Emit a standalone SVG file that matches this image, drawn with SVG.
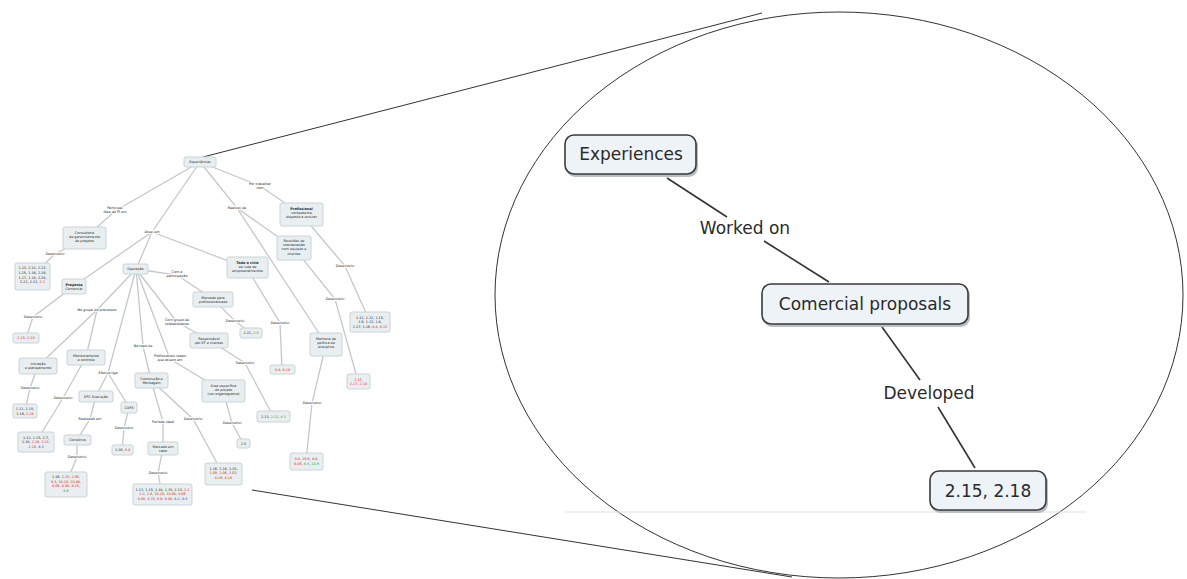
<svg xmlns="http://www.w3.org/2000/svg" width="1187" height="579" viewBox="0 0 1187 579">
<style>
.bg{fill:#ffffff}
.ln{stroke:#c4c8ca;stroke-width:1.3;fill:none}
.sb{fill:#e9eff1;stroke:#c9d3d7;stroke-width:1}
.st{font-family:"DejaVu Sans",sans-serif;font-size:3.4px;fill:#222;text-anchor:middle}
.lb{font-family:"DejaVu Sans",sans-serif;font-size:3.4px;fill:#222;text-anchor:middle;stroke:#fff;stroke-width:1.6;paint-order:stroke}
.r{fill:#e02020}.g{fill:#2a9a2a}.bl{fill:#2040d0}
.zl{stroke:#333;stroke-width:1;fill:none}
.bb{fill:#edf3f6;stroke:#3a3a3a;stroke-width:1.6}
.sh{fill:#b9bfc2}
.bt{font-family:"DejaVu Sans",sans-serif;font-size:17px;fill:#2a2a2a;text-anchor:middle}
.bc{stroke:#333;stroke-width:1.6;fill:none}
</style>
<rect class="bg" x="0" y="0" width="1187" height="579"/>

<!-- zoom outline -->
<g id="zoom-frame">
<ellipse class="zl" cx="839" cy="295" rx="344" ry="283"/>
<line class="zl" x1="203" y1="157" x2="762" y2="13"/>
<line class="zl" x1="252" y1="490" x2="792" y2="577"/>
<line x1="565" y1="512" x2="1086" y2="512" stroke="#e2e2de" stroke-width="1.2"/>
</g>

<!-- small map connectors -->
<g id="map-connectors" class="ln">
<path d="M200,162 L115,211 L85,238"/>
<path d="M200,162 L152,232 L136,269"/>
<path d="M152,232 L74,286"/>
<path d="M152,232 L247,268"/>
<path d="M200,162 L237,208 L294,248"/>
<path d="M237,208 L326,344"/>
<path d="M200,162 L260,186 L301,214"/>
<path d="M301,214 L345,266 L370,322"/>
<path d="M294,248 L335,299 L358,381"/>
<path d="M326,344 L312,403 L306,461"/>
<path d="M247,268 L280,323 L282,369"/>
<path d="M85,238 L55,254 L32,276"/>
<path d="M74,286 L33,317 L26,338"/>
<path d="M136,269 L177,275 L213,299 L235,321 L251,333"/>
<path d="M136,269 L97,310 L38,366"/>
<path d="M97,310 L86,357"/>
<path d="M136,269 L108,373 L96,396"/>
<path d="M108,373 L129,407"/>
<path d="M96,396 L90,419 L77,440 L77,457 L66,484"/>
<path d="M129,407 L124,428 L122,450"/>
<path d="M86,357 L63,398 L36,442"/>
<path d="M38,366 L30,388 L25,411"/>
<path d="M136,269 L143,346 L151,380"/>
<path d="M136,269 L170,359 L223,391"/>
<path d="M136,269 L177,322 L209,340"/>
<path d="M209,340 L245,363 L273,416"/>
<path d="M223,391 L232,423 L243,443"/>
<path d="M151,380 L163,422 L163,448 L158,473 L162,494"/>
<path d="M151,380 L193,419 L223,474"/>
</g>

<!-- small map link labels -->
<g id="map-labels">
<text class="lb" x="115" y="209">Participei<tspan x="115" dy="4">fase de PI em</tspan></text>
<text class="lb" x="152" y="233">Atuei em</text>
<text class="lb" x="237" y="209">Realizei de</text>
<text class="lb" x="260" y="185">Por trabalhar<tspan x="260" dy="4">com</tspan></text>
<text class="lb" x="55" y="255">Desenvolvi</text>
<text class="lb" x="33" y="318">Desenvolvi</text>
<text class="lb" x="177" y="273">Com a<tspan x="177" dy="4">participação</tspan></text>
<text class="lb" x="235" y="322">Desenvolvi</text>
<text class="lb" x="345" y="267">Desenvolvi</text>
<text class="lb" x="335" y="300">Desenvolvi</text>
<text class="lb" x="280" y="324">Desenvolvi</text>
<text class="lb" x="312" y="404">Desenvolvi</text>
<text class="lb" x="97" y="311">No grupo de processos</text>
<text class="lb" x="108" y="374">Efetiva liga</text>
<text class="lb" x="90" y="420">Realizado em</text>
<text class="lb" x="124" y="429">Desenvolvi</text>
<text class="lb" x="77" y="458">Desenvolvi</text>
<text class="lb" x="63" y="399">Desenvolvi</text>
<text class="lb" x="30" y="389">Desenvolvi</text>
<text class="lb" x="143" y="347">No topo de</text>
<text class="lb" x="170" y="357">Profissionais ideais<tspan x="170" dy="4">que atuem em</tspan></text>
<text class="lb" x="177" y="321">Com grupo de<tspan x="177" dy="4">colaboradores</tspan></text>
<text class="lb" x="245" y="364">Desenvolvi</text>
<text class="lb" x="232" y="424">Desenvolvi</text>
<text class="lb" x="163" y="423">Período ideal</text>
<text class="lb" x="193" y="420">Desenvolvi</text>
<text class="lb" x="158" y="474">Desenvolvi</text>
</g>

<!-- small map nodes -->
<g id="m-root"><rect class="sb" x="184" y="157" width="32" height="10" rx="2"/><text class="st" x="200" y="163.3">Experiências</text></g>
<g id="m-n1"><rect class="sb" x="63" y="227" width="43" height="22" rx="2"/><text class="st" x="84.5" y="234">Consultoria<tspan x="84.5" dy="4.2">de gerenciamento</tspan><tspan x="84.5" dy="4.2">de projetos</tspan></text></g>
<g id="m-n2"><rect class="sb" x="15" y="263" width="35" height="27" rx="2"/><text class="st" x="32.5" y="269">1.13, 2.12, 2.13,<tspan x="32.5" dy="4.8">1.15, 1.16, 2.19,</tspan><tspan x="32.5" dy="4.8">1.17, 1.18, 2.20,</tspan><tspan x="32.5" dy="4.8">2.21, 2.22, <tspan class="r">2.2</tspan></tspan></text></g>
<g id="m-n3"><rect class="sb" x="62" y="279" width="24" height="15" rx="2"/><text class="st" x="74" y="285.5" font-weight="bold">Proposta<tspan x="74" dy="4.2" font-weight="normal">Comercial</tspan></text></g>
<g id="m-n4"><rect class="sb" x="13" y="333" width="26" height="10" rx="2"/><text class="st r" x="26" y="339.3">2.15, 2.18</text></g>
<g id="m-n5"><rect class="sb" x="123" y="264" width="25" height="10" rx="2"/><text class="st" x="135.5" y="270.3">Operação</text></g>
<g id="m-n6"><rect class="sb" x="193" y="292" width="40" height="15" rx="2"/><text class="st" x="213" y="298.5">Mercado para<tspan x="213" dy="4.2">profissionalizado</tspan></text></g>
<g id="m-n7"><rect class="sb" x="240" y="328" width="22" height="10" rx="2"/><text class="st" x="251" y="334.3">2.21, <tspan class="g">2.8</tspan></text></g>
<g id="m-n8"><rect class="sb" x="190" y="333" width="38" height="15" rx="2"/><text class="st" x="209" y="339.5">Responsável<tspan x="209" dy="4.2">por EF e clientes</tspan></text></g>
<g id="m-n9"><rect class="sb" x="257" y="411" width="33" height="11" rx="2"/><text class="st" x="273.5" y="417.7">2.13, <tspan class="g">2.11, 8.3</tspan></text></g>
<g id="m-n10"><rect class="sb" x="202" y="380" width="43" height="22" rx="2"/><text class="st" x="223.5" y="387">Área específica<tspan x="223.5" dy="4.2">do projeto</tspan><tspan x="223.5" dy="4.2">(ver organograma)</tspan></text></g>
<g id="m-n11"><rect class="sb" x="237" y="439" width="13" height="9" rx="2"/><text class="st" x="243.5" y="444.8">2.5</text></g>
<g id="m-n12"><rect class="sb" x="205" y="463" width="37" height="22" rx="2"/><text class="st" x="223.5" y="469.5">1.16, 1.18, 1.15,<tspan x="223.5" dy="4.6" class="r">2.09, 2.06, 2.03,</tspan><tspan x="223.5" dy="4.6" class="r">8.16, 8.18</tspan></text></g>
<g id="m-n13"><rect class="sb" x="135" y="373" width="33" height="15" rx="2"/><text class="st" x="151.5" y="379.5">Construção e<tspan x="151.5" dy="4.2">Montagem</tspan></text></g>
<g id="m-n14"><rect class="sb" x="148" y="442" width="30" height="13" rx="2"/><text class="st" x="163" y="447.5">Mercado em<tspan x="163" dy="4.2">cabo</tspan></text></g>
<g id="m-n15"><rect class="sb" x="133" y="484" width="59" height="21" rx="2"/><text class="st" x="162.5" y="490.5">1.12, 1.15, 1.18, 1.15, 2.13, <tspan class="r">2.1</tspan><tspan x="162.5" dy="4.6" class="r">2.2, 2.9, 10.20, 10.08, 8.06</tspan><tspan x="162.5" dy="4.6" class="r">8.08, 8.15, 8.6, 8.08, <tspan class="bl">8.2, 8.5</tspan></tspan></text></g>
<g id="m-n16"><rect class="sb" x="121" y="402" width="16" height="11" rx="2"/><text class="st" x="129" y="408.7">CAPX</text></g>
<g id="m-n17"><rect class="sb" x="112" y="445" width="21" height="10" rx="2"/><text class="st" x="122.5" y="451.3">1.16, <tspan class="r">8.4</tspan></text></g>
<g id="m-n18"><rect class="sb" x="79" y="391" width="34" height="11" rx="2"/><text class="st" x="96" y="397.7">EPC Execução</text></g>
<g id="m-n19"><rect class="sb" x="64" y="435" width="27" height="10" rx="2"/><text class="st" x="77.5" y="441.3">Consórcio</text></g>
<g id="m-n20"><rect class="sb" x="45" y="472" width="42" height="25" rx="2"/><text class="st" x="66" y="478">1.16, <tspan class="r">2.15, 2.05,</tspan><tspan x="66" dy="4.5" class="r">8.3, 10.20, 10.08,</tspan><tspan x="66" dy="4.5" class="r">8.06, 8.08, 8.15,</tspan><tspan x="66" dy="4.5" class="g">8.6</tspan></text></g>
<g id="m-n21"><rect class="sb" x="67" y="350" width="38" height="15" rx="2"/><text class="st" x="86" y="356.5">Monitoramento<tspan x="86" dy="4.2">e controle</tspan></text></g>
<g id="m-n22"><rect class="sb" x="18" y="432" width="36" height="20" rx="2"/><text class="st" x="36" y="438.5">1.12, 1.15, 2.7,<tspan x="36" dy="4.6">1.18, <tspan class="r">2.19, 2.21,</tspan></tspan><tspan x="36" dy="4.6" class="r">2.19, <tspan class="bl">8.3</tspan></tspan></text></g>
<g id="m-n23"><rect class="sb" x="19" y="358" width="38" height="16" rx="2"/><text class="st" x="38" y="365">Iniciação<tspan x="38" dy="4.2">e planejamento</tspan></text></g>
<g id="m-n24"><rect class="sb" x="13" y="404" width="24" height="14" rx="2"/><text class="st" x="25" y="410">1.11, 1.15,<tspan x="25" dy="4.5">1.16, <tspan class="r">2.19</tspan></tspan></text></g>
<g id="m-n25"><rect class="sb" x="227" y="257" width="41" height="21" rx="2"/><text class="st" x="247.5" y="263.5" font-weight="bold">Todo o ciclo<tspan x="247.5" dy="4.2" font-weight="normal">de vida de</tspan><tspan x="247.5" dy="4.2" font-weight="normal">empreendimentos</tspan></text></g>
<g id="m-n26"><rect class="sb" x="270" y="365" width="25" height="9" rx="2"/><text class="st r" x="282.5" y="370.8">8.4, 8.18</text></g>
<g id="m-n27"><rect class="sb" x="277" y="236" width="34" height="24" rx="2"/><text class="st" x="294" y="242">Reuniões de<tspan x="294" dy="4.2">coordenação</tspan><tspan x="294" dy="4.2">com equipes e</tspan><tspan x="294" dy="4.2">clientes</tspan></text></g>
<g id="m-n28"><rect class="sb" x="310" y="333" width="32" height="23" rx="2"/><text class="st" x="326" y="340">Melhoria da<tspan x="326" dy="4.2">política de</tspan><tspan x="326" dy="4.2">disciplina</tspan></text></g>
<g id="m-n29"><rect class="sb" x="290" y="453" width="33" height="17" rx="2"/><text class="st r" x="306.5" y="460">8.4, 10.6, 8.8,<tspan x="306.5" dy="4.6">8.06, <tspan class="g">8.5, 10.9</tspan></tspan></text></g>
<g id="m-n30"><rect class="sb" x="280" y="203" width="43" height="23" rx="2"/><text class="st" x="301.5" y="210" font-weight="bold">Profissional<tspan x="301.5" dy="4.2" font-weight="normal">competente</tspan><tspan x="301.5" dy="4.2" font-weight="normal">disposto a ensinar</tspan></text></g>
<g id="m-n31"><rect class="sb" x="350" y="312" width="40" height="20" rx="2"/><text class="st" x="370" y="318.5">1.11, 1.12, 1.15,<tspan x="370" dy="4.6">1.9, 1.13, 1.8,</tspan><tspan x="370" dy="4.6">1.17, 1.16, <tspan class="r">8.4, 8.13</tspan></tspan></text></g>
<g id="m-n32"><rect class="sb" x="347" y="374" width="23" height="15" rx="2"/><text class="st r" x="358.5" y="380.5">2.13,<tspan x="358.5" dy="4.5">2.17, 2.18</tspan></text></g>

<!-- inset connectors -->
<g id="inset-connectors" class="bc">
<line x1="667" y1="178" x2="727" y2="217"/>
<line x1="764" y1="241" x2="829" y2="282"/>
<line x1="882" y1="327" x2="920" y2="380"/>
<line x1="938" y1="407" x2="975" y2="468"/>
</g>

<!-- inset nodes -->
<g id="n-experiences"><rect class="sh" x="566" y="137" width="132" height="40" rx="9"/><rect class="bb" x="565" y="135" width="131" height="39" rx="9"/><text class="bt" x="631" y="160">Experiences</text></g>
<g id="l-worked-on"><text class="bt" x="745" y="234">Worked on</text></g>
<g id="n-proposals"><rect class="sh" x="763" y="286" width="207" height="41" rx="9"/><rect class="bb" x="762" y="284" width="206" height="40" rx="9"/><text class="bt" x="865" y="310">Comercial proposals</text></g>
<g id="l-developed"><text class="bt" x="929" y="399">Developed</text></g>
<g id="n-values"><rect class="sh" x="931" y="473" width="117" height="40" rx="9"/><rect class="bb" x="930" y="471" width="116" height="39" rx="9"/><text class="bt" x="988" y="497">2.15, 2.18</text></g>
</svg>
